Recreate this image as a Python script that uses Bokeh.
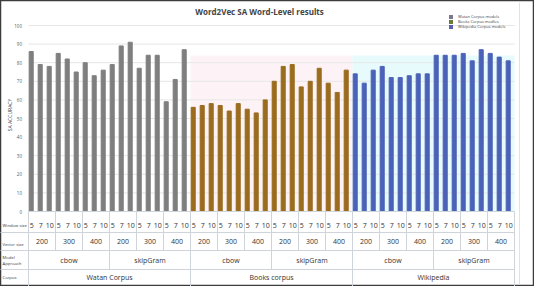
import math
import numpy as np
from bokeh.plotting import figure
from bokeh.models import Range1d, ColumnDataSource, Legend, LegendItem
from bokeh.core.properties import value
from bokeh.embed import file_html
from bokeh.resources import INLINE

# ---------------- data ----------------
title_text = "Word2Vec SA Word-Level results"
corpora = ["Watan Corpus", "Books corpus", "Wikipedia"]
approaches = ["cbow", "skipGram"]
vector_sizes = ["200", "300", "400"]
window_sizes = ["5", "7", "10"]

watan = [86, 79, 78, 85, 82, 75, 80, 73, 76, 79, 89, 91, 77, 84, 84, 59, 71, 87]
books = [56, 57, 58, 57, 54, 58, 55, 53, 60, 70, 78, 79, 67, 70, 77, 69, 64, 76]
wiki = [74, 69, 76, 78, 72, 72, 73, 74, 74, 84, 84, 84, 85, 81, 87, 85, 83, 81]

legend_labels = ["Watan Corpus models", "Books Corpus modles", "Wikipedia Corpus models"]
bar_colors = ["#7f7f7f", "#9a6c1e", "#4c62b8"]
legend_colors = ["#7b7790", "#6b7b3a", "#5a5fb6"]
y_ticks = list(range(0, 101, 10))

# ---------------- geometry ----------------
W, H = 534, 286
CELL = 9.0          # px per bar cell
LEFT = 28.0         # canvas x of first cell
PXY = 1.86          # px per accuracy unit
BASE = 211.0        # canvas y of 0 accuracy

def dx(page_x):
    return (page_x - 8 - LEFT) / CELL

def dy(page_y):
    return (BASE - (page_y - 8)) / PXY

p = figure(width=W, height=H, output_backend="svg", toolbar_location=None,
           x_range=Range1d(-LEFT / CELL, (W - LEFT) / CELL),
           y_range=Range1d((BASE - H) / PXY, BASE / PXY),
           min_border=0, min_border_left=0, min_border_right=0,
           min_border_top=0, min_border_bottom=0,
           x_axis_location=None, y_axis_location=None)
p.grid.visible = False
p.outline_line_color = "#3c3c3c"
p.outline_line_width = 1.5
p.background_fill_color = "white"
p.border_fill_color = "white"

FONT = value("Open Sans")

n_per = len(approaches) * len(vector_sizes) * len(window_sizes)
values = watan + books + wiki
n = len(values)

# faint background tints behind Books / Wikipedia regions
p.quad(left=[n_per, 2 * n_per], right=[2 * n_per, 3 * n_per],
       bottom=[0, 0], top=[dy(63), dy(63)],
       fill_color=["#fdf3f6", "#e8fbfc"], line_color=None)

# gridlines
p.segment(x0=[0] * (len(y_ticks) - 1), x1=[n] * (len(y_ticks) - 1),
          y0=y_ticks[1:], y1=y_ticks[1:], line_color="#e6e6e6", line_width=1)

# faint right border of chart area
p.segment(x0=[dx(527)], x1=[dx(527)], y0=[dy(10)], y1=[dy(292)],
          line_color="#e2e2e2", line_width=1)

# bars
colors = []
for c in bar_colors:
    colors += [c] * n_per
src = ColumnDataSource(dict(x=np.arange(n) + 0.3, top=values, color=colors))
p.vbar(x="x", top="top", bottom=0, width=0.45, color="color", source=src)

# y tick labels & axis title
p.text(x=[dx(29.5)] * len(y_ticks), y=y_ticks, text=[str(t) for t in y_ticks],
       text_align="right", text_baseline="middle", text_font=FONT,
       text_font_size="4.5px", text_color="#595959")
p.text(x=[dx(17.7)], y=[dy(122.5)], text=["SA ACCURACY"], angle=math.pi / 2,
       text_align="center", text_baseline="middle", text_font=FONT,
       text_font_size="5px", text_color="#404040")

# title
p.text(x=[dx(267)], y=[dy(19)], text=[title_text], text_align="center",
       text_baseline="middle", text_font=FONT, text_font_size="8px",
       text_font_style="bold", text_color="#444444")

# ---------------- table ----------------
LINE = "#cfd3da"
y_r1, y_r2, y_r3, y_bot = dy(240), dy(258), dy(277), dy(294)
p.segment(x0=[0, dx(5.5), dx(5.5), dx(5.5)], x1=[n] * 4,
          y0=[0, y_r1, y_r2, y_r3], y1=[0, y_r1, y_r2, y_r3],
          line_color=LINE, line_width=1)
g = np.arange(0, n + 1, len(window_sizes))
p.segment(x0=g, x1=g, y0=[0] * len(g), y1=[y_r2] * len(g), line_color=LINE, line_width=1)
a = np.arange(0, n + 1, n_per // len(approaches))
p.segment(x0=a, x1=a, y0=[y_r2] * len(a), y1=[y_r3] * len(a), line_color=LINE, line_width=1)
cb = np.arange(0, n + 1, n_per)
p.segment(x0=cb, x1=cb, y0=[y_r3] * len(cb), y1=[y_bot] * len(cb), line_color=LINE, line_width=1)

p.text(x=np.arange(n) + 0.37, y=[dy(233)] * n,
       text=[window_sizes[i % 3] for i in range(n)],
       text_align="center", text_baseline="middle", text_font=FONT,
       text_font_size="7px", text_color="#333333")
ng = n // 3
p.text(x=np.arange(ng) * 3 + 1.5, y=[dy(249)] * ng,
       text=[vector_sizes[i % 3] for i in range(ng)],
       text_align="center", text_baseline="middle", text_font=FONT,
       text_font_size="7px", text_color="#333333")
na = len(corpora) * len(approaches)
p.text(x=np.arange(na) * 9 + 4.5, y=[dy(268)] * na,
       text=[approaches[i % 2] for i in range(na)],
       text_align="center", text_baseline="middle", text_font=FONT,
       text_font_size="7px", text_color="#333333")
p.text(x=np.arange(len(corpora)) * n_per + n_per / 2, y=[dy(285)] * len(corpora),
       text=corpora, text_align="center", text_baseline="middle", text_font=FONT,
       text_font_size="7px", text_color="#333333")
p.text(x=[dx(10)] * 5, y=[dy(233.3), dy(252), dy(265), dy(271), dy(285)],
       text=["Window size", "Vector size", "Model", "Approach", "Corpus"],
       text_align="left", text_baseline="middle", text_font=FONT,
       text_font_size="4.2px", text_color="#3a3a3a")

# ---------------- legend ----------------
items = []
for lab, col in zip(legend_labels, legend_colors):
    r = p.quad(left=[-100], right=[-99], top=[-100], bottom=[-101],
               fill_color=col, line_color=None)
    items.append(LegendItem(label=lab, renderers=[r]))
legend = Legend(items=items, location=(448, 257), orientation="vertical",
                glyph_width=5, glyph_height=5, label_height=4, spacing=0,
                padding=0, margin=0, label_standoff=5,
                label_text_font="Open Sans", label_text_font_size="4px",
                label_text_color="#404040", border_line_alpha=0,
                background_fill_alpha=0)
p.add_layout(legend)

open("out.html", "w").write(file_html(p, INLINE))
